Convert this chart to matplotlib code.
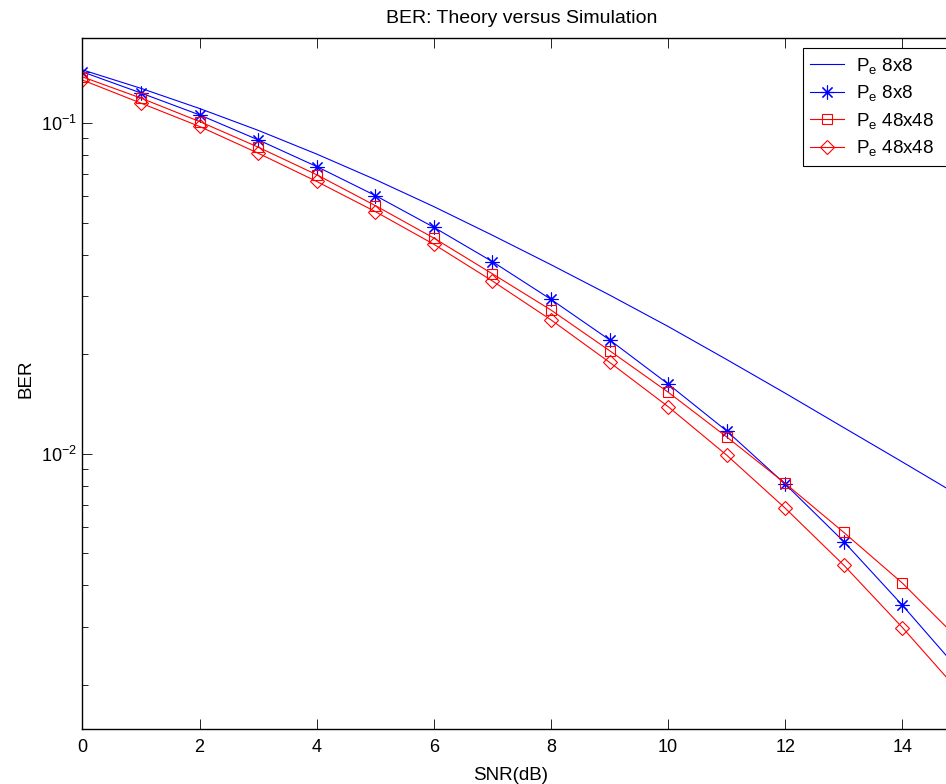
import matplotlib
matplotlib.use("Agg")
import matplotlib.pyplot as plt
from matplotlib.ticker import LogLocator, NullFormatter

plt.rcParams['font.family'] = ['Liberation Sans', 'DejaVu Sans']
plt.rcParams['mathtext.fontset'] = 'custom'
plt.rcParams['mathtext.rm'] = 'Liberation Sans'
plt.rcParams['mathtext.it'] = 'Liberation Sans'

# SNR in dB
snr = [0, 1, 2, 3, 4, 5, 6, 7, 8, 9, 10, 11, 12, 13, 14, 15]

# theory, 8x8
pe_theory = [0.1449, 0.1274, 0.1107, 0.0951, 0.0806, 0.0675, 0.0559, 0.0458,
             0.0373, 0.0302, 0.02426, 0.01927, 0.01524, 0.01199, 0.00944, 0.00741]
# simulation, 8x8
pe_sim8 = [0.1429, 0.1233, 0.1059, 0.0890, 0.0739, 0.0604, 0.0484, 0.0381,
           0.0293, 0.0221, 0.01625, 0.01172, 0.00809, 0.00542, 0.00348, 0.00218]
# simulation, 48x48 (square markers)
pe_sim48a = [0.1380, 0.1190, 0.1011, 0.0846, 0.0698, 0.0563, 0.0449, 0.0350,
             0.0272, 0.0205, 0.01535, 0.01124, 0.00813, 0.00578, 0.00406, 0.00270]
# simulation, 48x48 (diamond markers)
pe_sim48b = [0.1350, 0.1149, 0.0977, 0.0811, 0.0666, 0.0540, 0.0430, 0.0333,
             0.0254, 0.0189, 0.01388, 0.0099, 0.00684, 0.0046, 0.00298, 0.00188]

labels = [r'$\mathregular{P_e}$ 8x8', r'$\mathregular{P_e}$ 8x8',
          r'$\mathregular{P_e}$ 48x48', r'$\mathregular{P_e}$ 48x48']

fig = plt.figure(figsize=(9.46, 7.84), dpi=100)
# axes run a bit past the right edge, like the cropped original
ax = fig.add_axes([0.0872, 0.0702, 0.9286, 0.8814])

ax.semilogy(snr, pe_theory, color='blue', lw=0.8, label=labels[0])
ax.semilogy(snr, pe_sim8, color='blue', lw=0.8, marker=(8, 2, 0), ms=10,
            mew=0.8, label=labels[1])
ax.semilogy(snr, pe_sim48a, color='red', lw=0.8, marker='s', ms=7.5,
            mfc='none', mew=0.8, label=labels[2])
ax.semilogy(snr, pe_sim48b, color='red', lw=0.8, marker='D', ms=7.5,
            mfc='none', mew=0.8, label=labels[3])

ax.set_xlim(0, 15)
ax.set_ylim(0.00147, 0.181)
ax.set_xticks([0, 2, 4, 6, 8, 10, 12, 14])
ax.yaxis.set_minor_locator(LogLocator(base=10, subs=range(2, 10)))
ax.yaxis.set_minor_formatter(NullFormatter())
ax.tick_params(which='both', direction='in', top=True, right=True,
               labelsize=13, width=0.6)
ax.tick_params(axis='x', which='major', length=7, pad=7)
ax.tick_params(axis='y', which='major', length=7, pad=4)
ax.tick_params(which='minor', length=4)
for s in ax.spines.values():
    s.set_linewidth(1.0)

ax.set_title('BER: Theory versus Simulation', fontsize=14, pad=10.5)
ax.set_xlabel('SNR(dB)', fontsize=13.5, labelpad=8)
ax.xaxis.label.set_x(0.487)
ax.set_ylabel('BER', fontsize=13.5, labelpad=5)
ax.yaxis.label.set_y(0.5065)

# the original legend box runs past the cropped right edge
leg = ax.legend(loc='upper left', bbox_to_anchor=(0.8485, 0.5, 0.17, 0.4384),
                bbox_transform=fig.transFigure, mode='expand',
                fontsize=13.5, frameon=True,
                fancybox=False, framealpha=1, edgecolor='black',
                handlelength=1.8, borderpad=0.4, labelspacing=0.4,
                handletextpad=0.65, borderaxespad=0)
leg.get_frame().set_linewidth(0.8)

fig.savefig('out.png', dpi=100)
